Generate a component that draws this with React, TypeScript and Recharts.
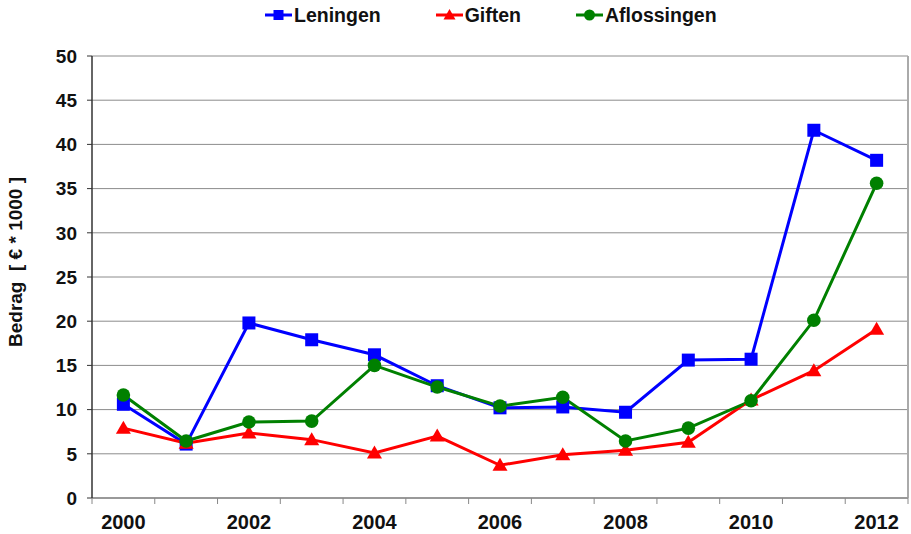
import React from 'react';
import { ComposedChart, Line, XAxis, YAxis, CartesianGrid, ReferenceLine } from 'recharts';

const years = [2000, 2001, 2002, 2003, 2004, 2005, 2006, 2007, 2008, 2009, 2010, 2011, 2012];
const leningen = [10.6, 6.1, 19.8, 17.9, 16.2, 12.7, 10.2, 10.3, 9.7, 15.6, 15.7, 41.6, 38.2];
const giften = [7.9, 6.2, 7.35, 6.6, 5.1, 7.0, 3.7, 4.9, 5.4, 6.3, 11.1, 14.4, 19.1];
const aflossingen = [11.65, 6.45, 8.6, 8.7, 15.0, 12.55, 10.4, 11.4, 6.45, 7.9, 11.0, 20.1, 35.6];
const yTicks = [0, 5, 10, 15, 20, 25, 30, 35, 40, 45, 50];
const xLabelYears = [2000, 2002, 2004, 2006, 2008, 2010, 2012];
const xBoundaries = [1999.5, 2000.5, 2001.5, 2002.5, 2003.5, 2004.5, 2005.5, 2006.5, 2007.5, 2008.5, 2009.5, 2010.5, 2011.5, 2012.5];
const seriesNames = ['Leningen', 'Giften', 'Aflossingen'];
const yLabel = 'Bedrag  [ € * 1000 ]';

const BLUE = '#0000ff';
const RED = '#ff0000';
const GREEN = '#008000';
const FONT = '"Liberation Sans", Arial, Helvetica, sans-serif';

const data = years.map((y, i) => ({
  year: y,
  leningen: leningen[i],
  giften: giften[i],
  aflossingen: aflossingen[i],
}));

const xTicks = [...xBoundaries, ...xLabelYears].sort((a, b) => a - b);

const XTick = (props: any) => {
  const { x, y, payload } = props;
  const v = payload.value;
  if (!Number.isInteger(v)) {
    return <line x1={x} x2={x} y1={y} y2={y + 6} stroke="#888" strokeWidth={1} />;
  }
  return (
    <text x={x} y={y + 31} textAnchor="middle" fontSize={20} fontWeight="bold" fill="#111" fontFamily={FONT}>
      {v}
    </text>
  );
};

const SquareDot = (p: any) => {
  if (p.cx == null || p.cy == null) return null;
  return <rect key={`s-${p.index}`} x={p.cx - 6.5} y={p.cy - 6.5} width={13} height={13} fill={BLUE} />;
};

const TriangleDot = (p: any) => {
  if (p.cx == null || p.cy == null) return null;
  const { cx, cy } = p;
  return (
    <polygon
      key={`t-${p.index}`}
      points={`${cx},${cy - 7.5} ${cx + 7.5},${cy + 5.5} ${cx - 7.5},${cy + 5.5}`}
      fill={RED}
    />
  );
};

const CircleDot = (p: any) => {
  if (p.cx == null || p.cy == null) return null;
  return <circle key={`c-${p.index}`} cx={p.cx} cy={p.cy} r={6.8} fill={GREEN} />;
};

const YLabel = (props: any) => {
  const vb = props.viewBox || {};
  const cx = 22;
  const cy = (vb.y ?? 56) + (vb.height ?? 442) / 2 - 15;
  return (
    <text
      x={cx}
      y={cy}
      transform={`rotate(-90 ${cx} ${cy})`}
      textAnchor="middle"
      fontSize={19}
      fontWeight="bold"
      fill="#111"
      fontFamily={FONT}
      style={{ whiteSpace: 'pre' }}
    >
      {yLabel}
    </text>
  );
};

const LegendIcon = ({ kind }: { kind: number }) => {
  const color = kind === 0 ? BLUE : kind === 1 ? RED : GREEN;
  return (
    <svg width={27} height={16} style={{ display: 'block' }}>
      <line x1={0} x2={27} y1={8} y2={8} stroke={color} strokeWidth={3} />
      {kind === 0 && <rect x={8.5} y={3} width={10} height={10} fill={color} />}
      {kind === 1 && <polygon points="13.5,2 19.5,12.5 7.5,12.5" fill={color} />}
      {kind === 2 && <circle cx={13.5} cy={8} r={5.5} fill={color} />}
    </svg>
  );
};

export default function App() {
  return (
    <div style={{ position: 'absolute', left: 0, top: 0, width: 911, height: 534, background: '#fff' }}>
      <div
        style={{
          position: 'absolute',
          top: 5,
          left: 265,
          display: 'flex',
          alignItems: 'center',
          fontFamily: FONT,
          fontWeight: 'bold',
          fontSize: 19.5,
          color: '#111',
          lineHeight: '20px',
        }}
      >
        {seriesNames.map((n, i) => (
          <div key={n} style={{ display: 'flex', alignItems: 'center', marginRight: 55 }}>
            <LegendIcon kind={i} />
            <span style={{ marginLeft: 2 }}>{n}</span>
          </div>
        ))}
      </div>
      <ComposedChart
        width={911}
        height={534}
        data={data}
        margin={{ top: 56, right: 3, bottom: 0, left: 0 }}
      >
        <CartesianGrid vertical={false} stroke="#8c8c8c" strokeWidth={1} />
        <XAxis
          dataKey="year"
          type="number"
          domain={[1999.5, 2012.5]}
          ticks={xTicks}
          interval={0}
          height={36}
          tickLine={false}
          tickSize={0}
          tickMargin={0}
          axisLine={{ stroke: '#999', strokeWidth: 2 }}
          tick={<XTick />}
        />
        <YAxis
          domain={[0, 50]}
          ticks={yTicks}
          interval={0}
          width={92}
          tickSize={5}
          tickMargin={10}
          axisLine={{ stroke: '#333', strokeWidth: 1.5 }}
          tickLine={{ stroke: '#333' }}
          tick={{ fontSize: 19, fontWeight: 'bold', fill: '#111', fontFamily: FONT }}
          label={<YLabel />}
        />
        <ReferenceLine x={2012.5} stroke="#aaa" strokeWidth={2} />
        <Line
          dataKey="leningen"
          stroke={BLUE}
          strokeWidth={3}
          dot={SquareDot}
          activeDot={false}
          isAnimationActive={false}
        />
        <Line
          dataKey="giften"
          stroke={RED}
          strokeWidth={3}
          dot={TriangleDot}
          activeDot={false}
          isAnimationActive={false}
        />
        <Line
          dataKey="aflossingen"
          stroke={GREEN}
          strokeWidth={3}
          dot={CircleDot}
          activeDot={false}
          isAnimationActive={false}
        />
      </ComposedChart>
    </div>
  );
}
